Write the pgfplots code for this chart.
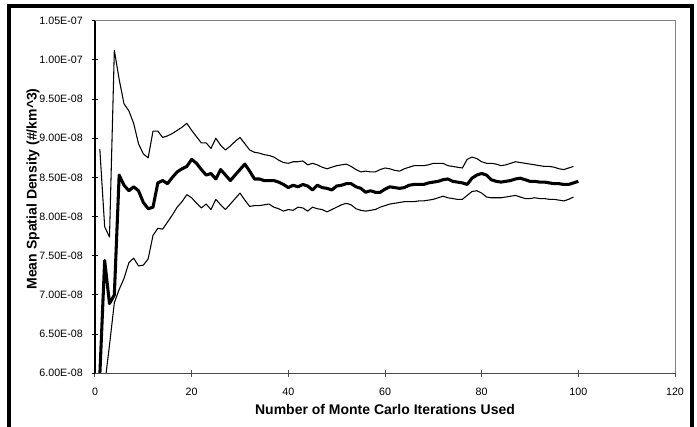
\documentclass[border=0pt]{standalone}
\usepackage{pgfplots}
\usepackage{pgfplotstable}
\usepackage{fontspec}
\setmainfont{Liberation Sans}
\pgfplotsset{compat=1.18}
\pgfplotstableread{
x m u l
1 5.98 8.86 5.30
2 7.44 7.87 5.85
3 6.89 7.74 6.36
4 7.00 10.12 6.90
5 8.53 9.75 7.07
6 8.40 9.44 7.21
7 8.33 9.35 7.41
8 8.38 9.19 7.47
9 8.33 8.93 7.37
10 8.18 8.80 7.38
11 8.10 8.75 7.46
12 8.12 9.09 7.76
13 8.43 9.09 7.85
14 8.46 9.01 7.84
15 8.42 9.03 7.93
16 8.50 9.06 8.02
17 8.57 9.10 8.12
18 8.61 9.14 8.19
19 8.64 9.19 8.28
20 8.73 9.10 8.24
21 8.68 9.02 8.17
22 8.60 8.94 8.11
23 8.53 8.94 8.16
24 8.55 8.87 8.09
25 8.48 9.00 8.22
26 8.60 8.91 8.15
27 8.53 8.85 8.09
28 8.46 8.90 8.16
29 8.53 8.96 8.23
30 8.60 9.01 8.30
31 8.67 8.93 8.21
32 8.58 8.85 8.13
33 8.48 8.82 8.14
34 8.48 8.81 8.14
35 8.46 8.79 8.15
36 8.46 8.78 8.16
37 8.46 8.76 8.12
38 8.44 8.72 8.10
39 8.41 8.69 8.07
40 8.37 8.68 8.09
41 8.40 8.70 8.08
42 8.38 8.70 8.12
43 8.41 8.71 8.11
44 8.39 8.66 8.07
45 8.34 8.68 8.12
46 8.40 8.66 8.10
47 8.37 8.63 8.09
48 8.36 8.61 8.06
49 8.34 8.63 8.09
50 8.39 8.65 8.12
51 8.40 8.66 8.15
52 8.42 8.67 8.17
53 8.42 8.64 8.15
54 8.38 8.60 8.10
55 8.36 8.57 8.08
56 8.31 8.58 8.07
57 8.33 8.57 8.08
58 8.31 8.57 8.09
59 8.31 8.60 8.12
60 8.35 8.62 8.14
61 8.38 8.61 8.16
62 8.37 8.59 8.17
63 8.36 8.58 8.18
64 8.37 8.61 8.19
65 8.40 8.63 8.19
66 8.41 8.65 8.19
67 8.41 8.65 8.20
68 8.41 8.65 8.20
69 8.43 8.66 8.21
70 8.44 8.68 8.22
71 8.45 8.68 8.24
72 8.47 8.68 8.26
73 8.48 8.65 8.24
74 8.45 8.64 8.23
75 8.44 8.63 8.22
76 8.43 8.62 8.22
77 8.41 8.73 8.27
78 8.49 8.76 8.32
79 8.53 8.74 8.33
80 8.55 8.70 8.30
81 8.53 8.68 8.25
82 8.47 8.68 8.24
83 8.45 8.67 8.24
84 8.44 8.65 8.24
85 8.45 8.66 8.25
86 8.46 8.68 8.26
87 8.48 8.70 8.27
88 8.49 8.69 8.25
89 8.47 8.68 8.23
90 8.45 8.67 8.23
91 8.45 8.66 8.24
92 8.44 8.65 8.23
93 8.44 8.64 8.23
94 8.43 8.64 8.22
95 8.42 8.63 8.22
96 8.42 8.61 8.21
97 8.41 8.60 8.20
98 8.41 8.62 8.22
99 8.43 8.64 8.25
100 8.45 nan nan
}\data
\begin{document}
\begin{tikzpicture}[x=0.75pt,y=0.75pt]
\useasboundingbox (0,0) rectangle (697,427);
\draw[line width=3.2pt] (9,0) -- (9,421.3) -- (692,421.3) -- (692,0);
\begin{axis}[
  at={(71.25pt,40.275pt)}, anchor=south west,
  width=435pt, height=264.45pt, scale only axis,
  xmin=0, xmax=120, ymin=6, ymax=10.5,
  xtick={0,20,...,120},
  ytick={6,6.5,...,10.5},
  yticklabels={6.00E-08,6.50E-08,7.00E-08,7.50E-08,8.00E-08,8.50E-08,9.00E-08,9.50E-08,1.00E-07,1.05E-07},
  xtick pos=bottom, ytick pos=left,
  tick align=center, major tick length=5pt,
  xtick style={black!70, line width=0.75pt},
  ytick style={black, line width=0.75pt},
  axis line style={draw=none},
  /pgf/number format/assume math mode=true,
  tick label style={font=\fontsize{8}{9.6}\selectfont},
  yticklabel style={anchor=east, inner sep=0pt, xshift=-6.5pt},
  xticklabel style={anchor=north, inner sep=0pt, yshift=-8.5pt},
  xlabel={Number of Monte Carlo Iterations Used},
  ylabel={Mean Spatial Density (\#/km\^{}3)},
  label style={font=\bfseries\fontsize{10.5}{12}\selectfont},
  xlabel style={at={(axis description cs:0.5,-0.104)}, anchor=center},
  ylabel style={at={(axis description cs:-0.107,0.523)}, anchor=center},
  unbounded coords=jump,
  extra description/.code={
    \draw[gray, line width=0.6pt] (rel axis cs:0,1) -- (rel axis cs:1,1) -- (rel axis cs:1,0);
    \draw[black!70, line width=0.9pt] (rel axis cs:0,0) -- (rel axis cs:1,0);
    \draw[black, line width=0.9pt] (rel axis cs:0,0) -- (rel axis cs:0,1);
  },
]
\addplot[black, line width=0.8pt, line join=round] table[x=x, y=u] {\data};
\addplot[black, line width=0.8pt, line join=round] table[x=x, y=l] {\data};
\addplot[black, line width=2.3pt, line join=round] table[x=x, y=m] {\data};
\end{axis}
\end{tikzpicture}
\end{document}
